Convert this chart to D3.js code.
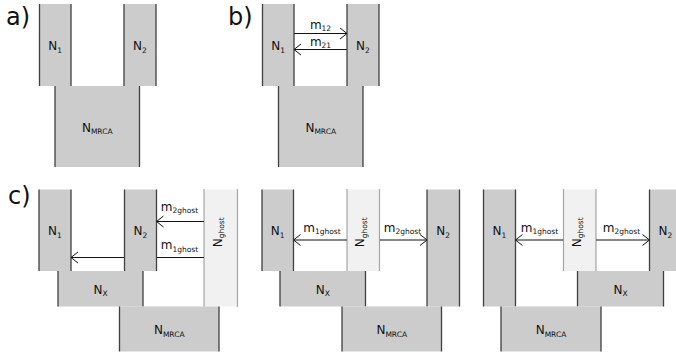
<!DOCTYPE html>
<html>
<head>
<meta charset="utf-8">
<script src="https://cdn.jsdelivr.net/npm/d3@7"></script>
<style>
  html, body { margin: 0; padding: 0; background: #fff; }
  svg { display: block; font-family: "DejaVu Sans", sans-serif; }
</style>
</head>
<body>
<div id="chart"></div>
<script>
// Population diagrams: a) split, b) split with migration, c) ghost population models

// time levels (top -> bottom) for each row of panels
const levelsTop = [0, 82, 163];
const levelsBottom = [0, 81.5, 117, 162];

// panel labels
const panelNames = ["a)", "b)", "c)"];
const panelX = [6, 228, 8];
const panelRow = [0, 0, 1];

// population blocks: x extent, start level index, end level index
const blocks = [
  // a)
  { row: 0, name: "N", sub: "1", x0: 39.5, x1: 71, l0: 0, l1: 1 },
  { row: 0, name: "N", sub: "2", x0: 124, x1: 156, l0: 0, l1: 1 },
  { row: 0, name: "N", sub: "MRCA", x0: 55, x1: 139.5, l0: 1, l1: 2 },
  // b)
  { row: 0, name: "N", sub: "1", x0: 262.5, x1: 294, l0: 0, l1: 1 },
  { row: 0, name: "N", sub: "2", x0: 347, x1: 379, l0: 0, l1: 1 },
  { row: 0, name: "N", sub: "MRCA", x0: 278.5, x1: 363, l0: 1, l1: 2 },
  // c) left
  { row: 1, name: "N", sub: "1", x0: 39, x1: 71, l0: 0, l1: 1 },
  { row: 1, name: "N", sub: "2", x0: 124.5, x1: 156.5, l0: 0, l1: 1 },
  { row: 1, name: "N", sub: "ghost", x0: 204, x1: 237.5, l0: 0, l1: 2, ghost: true },
  { row: 1, name: "N", sub: "X", x0: 58, x1: 143, l0: 1, l1: 2 },
  { row: 1, name: "N", sub: "MRCA", x0: 119.5, x1: 219, l0: 2, l1: 3 },
  // c) middle
  { row: 1, name: "N", sub: "1", x0: 262, x1: 293.5, l0: 0, l1: 1 },
  { row: 1, name: "N", sub: "ghost", x0: 347, x1: 379.5, l0: 0, l1: 1, ghost: true },
  { row: 1, name: "N", sub: "2", x0: 427, x1: 459.5, l0: 0, l1: 2 },
  { row: 1, name: "N", sub: "X", x0: 280, x1: 365.5, l0: 1, l1: 2 },
  { row: 1, name: "N", sub: "MRCA", x0: 342, x1: 441.5, l0: 2, l1: 3 },
  // c) right
  { row: 1, name: "N", sub: "1", x0: 483.5, x1: 515.5, l0: 0, l1: 2 },
  { row: 1, name: "N", sub: "ghost", x0: 563.5, x1: 596, l0: 0, l1: 1, ghost: true },
  { row: 1, name: "N", sub: "2", x0: 649.5, x1: 681.5, l0: 0, l1: 1 },
  { row: 1, name: "N", sub: "X", x0: 577.5, x1: 663.5, l0: 1, l1: 2 },
  { row: 1, name: "N", sub: "MRCA", x0: 501, x1: 601, l0: 2, l1: 3 }
];

// migration arrows: from -> to (head at "to"), time t below top, label centre and lift
const arrows = [
  { row: 0, sub: "12", from: 294, to: 347, t: 29.5, lx: 320.5, lift: 4.8 },
  { row: 0, sub: "21", from: 347, to: 294, t: 45.5, lx: 320.5, lift: 4 },
  { row: 1, sub: "2ghost", from: 204, to: 156.5, t: 32, lx: 179.5, lift: 10.7 },
  { row: 1, sub: "1ghost", from: 204, to: 71, t: 68, lx: 179.5, lift: 8.4 },
  { row: 1, sub: "1ghost", from: 347, to: 293.5, t: 50.5, lx: 322, lift: 8.3 },
  { row: 1, sub: "2ghost", from: 379.5, to: 427, t: 50.5, lx: 402.5, lift: 8.3 },
  { row: 1, sub: "1ghost", from: 563.5, to: 515.5, t: 50.5, lx: 539.5, lift: 8.3 },
  { row: 1, sub: "2ghost", from: 596, to: 649.5, t: 50.5, lx: 621.5, lift: 8.3 }
];

const width = 676, height = 355;

const svg = d3.select("#chart").append("svg")
  .attr("width", width)
  .attr("height", height);

const x = d3.scaleLinear().domain([0, width]).range([0, width]);
const yRows = [
  d3.scaleLinear().domain([0, 163]).range([4, 167]),
  d3.scaleLinear().domain([0, 162]).range([189.5, 351.5])
];
const rowLevels = [levelsTop, levelsBottom];

const yLevel = (row, i) => yRows[row](rowLevels[row][i]);

const edgeColor = "#404040";
const fillColor = "#cccccc";
const ghostFill = "#f1f1f1";

function subText(sel, name, sub, size, subSize) {
  sel.append("tspan").text(name).attr("font-size", size);
  sel.append("tspan").text(sub).attr("font-size", subSize).attr("dy", 2.5);
}

// arrow shafts drawn first so the blocks hide the part crossing N2
const arrowG = svg.append("g");
arrows.forEach((a) => {
  const y = yRows[a.row](a.t);
  arrowG.append("line")
    .attr("x1", x(a.from)).attr("x2", x(a.to))
    .attr("y1", y).attr("y2", y)
    .attr("stroke", "#111").attr("stroke-width", 1);
});

// blocks
const blockG = svg.append("g");
blocks.forEach((b) => {
  const y0 = yLevel(b.row, b.l0);
  const y1 = yLevel(b.row, b.l1);
  blockG.append("rect")
    .attr("x", x(b.x0)).attr("y", y0)
    .attr("width", x(b.x1) - x(b.x0)).attr("height", y1 - y0)
    .attr("fill", b.ghost ? ghostFill : fillColor);
  [b.x0, b.x1].forEach((xv) => {
    blockG.append("line")
      .attr("x1", x(xv)).attr("x2", x(xv))
      .attr("y1", y0).attr("y2", y1)
      .attr("stroke", b.ghost ? "#555" : edgeColor)
      .attr("stroke-width", b.ghost ? 1.2 : 1.3)
      .attr("stroke-dasharray", b.ghost ? "1,1" : null);
  });
});

// arrowheads and migration labels on top
arrows.forEach((a) => {
  const y = yRows[a.row](a.t);
  const dir = a.to > a.from ? 1 : -1;
  const tip = x(a.to);
  svg.append("path")
    .attr("d", `M${tip - dir * 7},${y - 5.5} L${tip},${y} L${tip - dir * 7},${y + 5.5}`)
    .attr("fill", "none")
    .attr("stroke", "#111")
    .attr("stroke-width", 1);
  const t = svg.append("text")
    .attr("x", x(a.lx))
    .attr("y", y - a.lift)
    .attr("text-anchor", "middle")
    .attr("fill", "#111");
  subText(t, "m", a.sub, 12, 7.5);
});

// block labels
blocks.forEach((b) => {
  const cy = (yLevel(b.row, b.l0) + yLevel(b.row, b.l0 + 1)) / 2;
  const cx = x((b.x0 + b.x1) / 2);
  if (b.ghost) {
    const t = svg.append("text")
      .attr("transform", `translate(${cx},${cy + 2}) rotate(-90)`)
      .attr("text-anchor", "middle")
      .attr("y", 1)
      .attr("fill", "#111");
    subText(t, b.name, b.sub, 12, 7.5);
  } else {
    const t = svg.append("text")
      .attr("x", cx)
      .attr("y", cy + 5)
      .attr("text-anchor", "middle")
      .attr("fill", "#111");
    subText(t, b.name, b.sub, 12, 7.5);
  }
});

// panel letters
panelNames.forEach((p, i) => {
  svg.append("text")
    .attr("x", panelX[i])
    .attr("y", yRows[panelRow[i]](panelRow[i] === 0 ? 21 : 14))
    .attr("font-size", 24)
    .attr("fill", "#111")
    .text(p);
});
</script>
</body>
</html>
